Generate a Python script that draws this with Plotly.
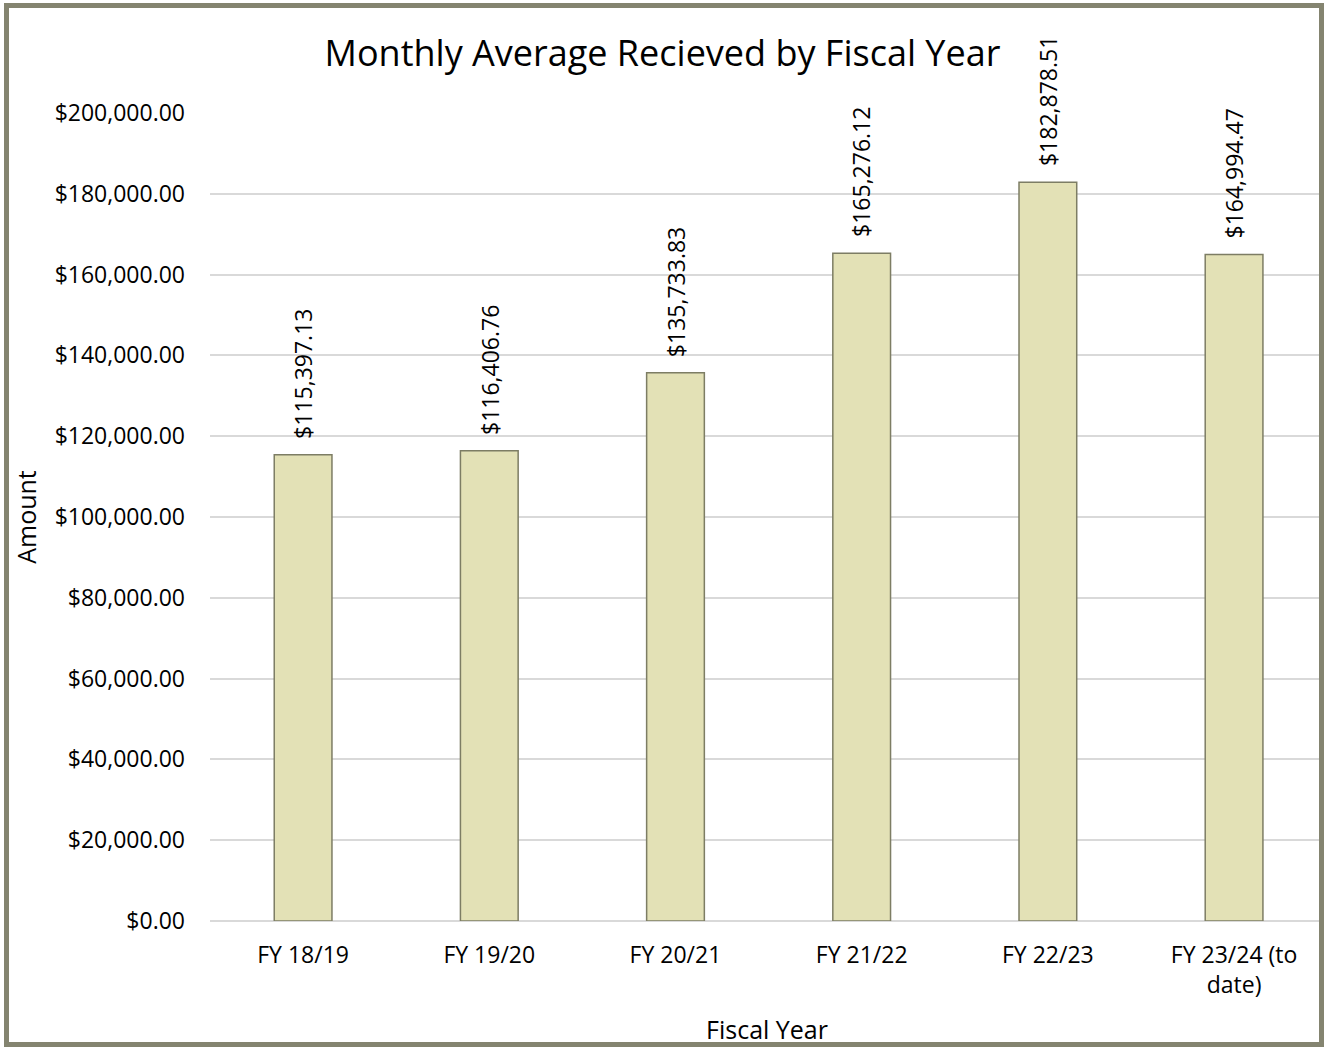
import plotly.graph_objects as go

categories = ["FY 18/19", "FY 19/20", "FY 20/21", "FY 21/22", "FY 22/23", "FY 23/24 (to<br>date)"]
amounts = [115397.13, 116406.76, 135733.83, 165276.12, 182878.51, 164994.47]
y_ticks = [0, 20000, 40000, 60000, 80000, 100000, 120000, 140000, 160000, 180000, 200000]
y_tick_labels = ["$" + f"{v:,.2f}" for v in y_ticks]
labels = ["$" + f"{v:,.2f}" for v in amounts]

FONT = "Open Sans"
W, H = 1325, 1048
L, R, T, B = 210, 1, 113, 127
pw, ph = W - L - R, H - T - B

fig = go.Figure(go.Bar(
    x=categories, y=amounts,
    marker=dict(color="rgb(227,225,182)", line=dict(color="rgb(125,125,100)", width=1.5)),
    cliponaxis=False,
))

for c, v, t in zip(categories, amounts, labels):
    fig.add_annotation(
        x=c, y=v, text=t, textangle=-90, showarrow=False,
        xanchor="center", yanchor="bottom", yshift=14,
        font=dict(family=FONT, size=23, color="black"),
    )

def px_x(x):
    return (x - L) / pw

def px_y(y):
    return (H - B - y) / ph

fig.update_layout(
    width=W, height=H,
    margin=dict(l=L, r=R, t=T, b=B),
    paper_bgcolor="white", plot_bgcolor="white",
    bargap=0.69,
    showlegend=False,
    font=dict(family=FONT, color="black"),
    title=dict(text="Monthly Average Recieved by Fiscal Year", x=0.5, xanchor="center",
               y=1 - 53 / H, yanchor="middle", font=dict(family=FONT, size=36, color="black")),
    xaxis=dict(
        range=[-0.5, 5.483], showgrid=False, showline=False, zeroline=False,
        tickfont=dict(family=FONT, size=23), ticklabelstandoff=18,
        title=dict(text="Fiscal Year", font=dict(family=FONT, size=25), standoff=22),
    ),
    yaxis=dict(
        range=[0, 200000], tickvals=y_ticks, ticktext=y_tick_labels,
        showgrid=True, gridcolor="#D9D9D9", gridwidth=1.5,
        zeroline=True, zerolinecolor="#D9D9D9", zerolinewidth=1.5,
        tickfont=dict(family=FONT, size=23), ticklabelstandoff=24,
        title=dict(text="Amount", font=dict(family=FONT, size=25), standoff=10),
    ),
    shapes=[dict(
        type="rect", xref="paper", yref="paper",
        x0=px_x(6.5), x1=px_x(1321.5), y0=px_y(1044.5), y1=px_y(5.5),
        line=dict(color="rgb(132,132,112)", width=5), fillcolor="rgba(0,0,0,0)", layer="above",
    )],
)

fig.write_html("out.html", config={"displayModeBar": False},
               post_script="document.body.style.margin='0';document.body.style.overflow='hidden';")
